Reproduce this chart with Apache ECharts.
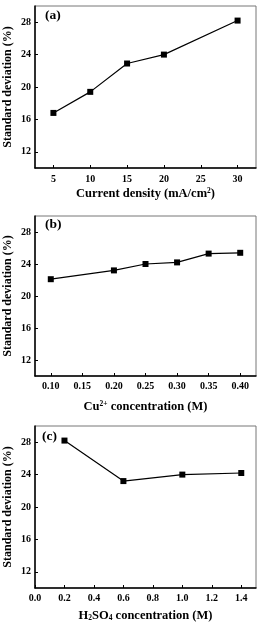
<!DOCTYPE html>
<html>
<head>
  <meta charset="utf-8">
  <title>Standard deviation</title>
  <script src="https://cdn.jsdelivr.net/npm/echarts@6/dist/echarts.min.js"></script>
  <style>
    html, body { margin: 0; padding: 0; background: #fff; }
  </style>
</head>
<body>
<div id="main" style="width: 264px;height:627px;"></div>
<script type="text/javascript">
  // panel (a): current density
  var densX = [5, 10, 15, 20, 30];
  var densY = [16.8, 19.4, 22.9, 24.0, 28.2];
  var densTicks = [5, 10, 15, 20, 25, 30];

  // panel (b): Cu2+ concentration
  var cuX = [0.10, 0.20, 0.25, 0.30, 0.35, 0.40];
  var cuY = [22.1, 23.2, 24.0, 24.2, 25.3, 25.4];
  var cuTicks = [0.10, 0.15, 0.20, 0.25, 0.30, 0.35, 0.40];

  // panel (c): H2SO4 concentration
  var acidX = [0.2, 0.6, 1.0, 1.4];
  var acidY = [28.2, 23.2, 24.0, 24.2];
  var acidTicks = [0.0, 0.2, 0.4, 0.6, 0.8, 1.0, 1.2, 1.4];

  var sdTicks = [12, 16, 20, 24, 28];

  var serif = 'Liberation Serif';
  var nameSize = 12.5;
  var nameRich = {
    n: { fontFamily: serif, fontWeight: 'bold', fontSize: nameSize, color: '#000' },
    sup: { fontFamily: serif, fontWeight: 'bold', fontSize: 7.5, color: '#000', verticalAlign: 'top' },
    sub: { fontFamily: serif, fontWeight: 'bold', fontSize: 7.5, color: '#000', verticalAlign: 'bottom' }
  };

  function pairs(xs, ys) {
    return xs.map(function (x, i) { return [x, ys[i]]; });
  }

  function xAxisFor(idx, min, max, ticks, digits, name, margin, gap) {
    return {
      gridIndex: idx, type: 'value', min: min, max: max,
      name: name, nameLocation: 'middle', nameGap: gap, nameMoveOverlap: false,
      nameTextStyle: { rich: nameRich },
      axisLine: { lineStyle: { color: '#000', width: 1.5 } },
      axisTick: { inside: true, length: 3, customValues: ticks, lineStyle: { color: '#000' } },
      axisLabel: {
        customValues: ticks, margin: margin,
        fontFamily: serif, fontWeight: 'bold', fontSize: 10, color: '#000',
        formatter: function (v) { return digits ? v.toFixed(digits) : String(v); }
      },
      splitLine: { show: false }
    };
  }

  function yAxisFor(idx) {
    return {
      gridIndex: idx, type: 'value', min: 10, max: 30,
      name: 'Standard deviation (%)', nameLocation: 'middle', nameGap: 21, nameMoveOverlap: false,
      nameTextStyle: { fontFamily: serif, fontWeight: 'bold', fontSize: 12, color: '#000' },
      axisLine: { lineStyle: { color: '#000', width: 1.5 } },
      axisTick: { inside: true, length: 3, customValues: sdTicks, lineStyle: { color: '#000' } },
      axisLabel: {
        customValues: sdTicks, margin: 4,
        fontFamily: serif, fontWeight: 'bold', fontSize: 10, color: '#000'
      },
      splitLine: { show: false }
    };
  }

  function seriesFor(idx, xs, ys) {
    return {
      type: 'line', xAxisIndex: idx, yAxisIndex: idx,
      data: pairs(xs, ys),
      symbol: 'rect', symbolSize: 6,
      itemStyle: { color: '#000' },
      lineStyle: { color: '#000', width: 1.2 }
    };
  }

  var myChart = echarts.init(document.getElementById('main'));

  var gridBase = {
    left: 35, right: 8, show: true, borderColor: '#777', borderWidth: 1,
    containLabel: false, outerBoundsMode: 'none'
  };

  var option = {
    animation: false,
    backgroundColor: '#fff',
    grid: [
      Object.assign({ top: 6, height: 162 }, gridBase),
      Object.assign({ top: 216, height: 160 }, gridBase),
      Object.assign({ top: 426, height: 162 }, gridBase)
    ],
    xAxis: [
      xAxisFor(0, 2.5, 32.5, densTicks, 0, '{n|Current density (mA/cm}{sup|2}{n|)}', 6, 19),
      xAxisFor(1, 0.075, 0.425, cuTicks, 2, '{n|Cu}{sup|2+}{n| concentration (M)}', 5, 24),
      xAxisFor(2, 0, 1.5, acidTicks, 1, '{n|H}{sub|2}{n|SO}{sub|4}{n| concentration (M)}', 5, 21)
    ],
    yAxis: [yAxisFor(0), yAxisFor(1), yAxisFor(2)],
    graphic: [
      { type: 'text', left: 45, top: 9, style: { text: '(a)', font: 'bold 13.5px "Liberation Serif"', fill: '#000' } },
      { type: 'text', left: 45, top: 218, style: { text: '(b)', font: 'bold 13.5px "Liberation Serif"', fill: '#000' } },
      { type: 'text', left: 42, top: 430, style: { text: '(c)', font: 'bold 13.5px "Liberation Serif"', fill: '#000' } }
    ],
    series: [
      seriesFor(0, densX, densY),
      seriesFor(1, cuX, cuY),
      seriesFor(2, acidX, acidY)
    ]
  };

  myChart.setOption(option);
</script>
</body>
</html>
